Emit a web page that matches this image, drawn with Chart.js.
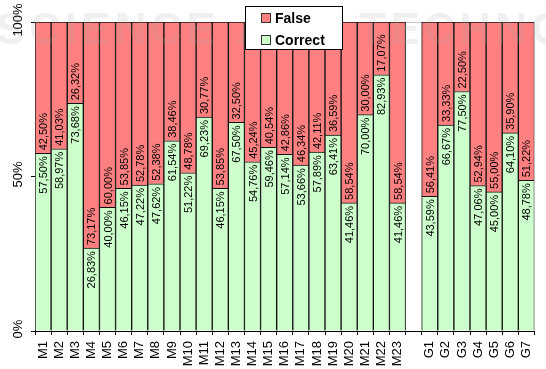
<!DOCTYPE html>
<html>
<head>
<meta charset="utf-8">
<script src="https://cdn.jsdelivr.net/npm/chart.js@4/dist/chart.umd.min.js"></script>
<style>
    html, body { margin: 0; padding: 0; background: #fff; overflow: hidden; }
    #wrap { width: 548px; height: 369px; }
</style>
</head>
<body>
<div id="wrap"><canvas id="chartCanvas" width="548" height="369"></canvas></div>
<script>
// data (empty slot = gap between M and G groups)
const categories = ['M1', 'M2', 'M3', 'M4', 'M5', 'M6', 'M7', 'M8', 'M9', 'M10', 'M11', 'M12',
    'M13', 'M14', 'M15', 'M16', 'M17', 'M18', 'M19', 'M20', 'M21', 'M22', 'M23', '',
    'G1', 'G2', 'G3', 'G4', 'G5', 'G6', 'G7'];
const correctValues = [57.50, 58.97, 73.68, 26.83, 40.00, 46.15, 47.22, 47.62, 61.54, 51.22, 69.23, 46.15,
    67.50, 54.76, 59.46, 57.14, 53.66, 57.89, 63.41, 41.46, 70.00, 82.93, 41.46, null,
    43.59, 66.67, 77.50, 47.06, 45.00, 64.10, 48.78];
const falseValues = [42.50, 41.03, 26.32, 73.17, 60.00, 53.85, 52.78, 52.38, 38.46, 48.78, 30.77, 53.85,
    32.50, 45.24, 40.54, 42.86, 46.34, 42.11, 36.59, 58.54, 30.00, 17.07, 58.54, null,
    56.41, 33.33, 22.50, 52.94, 55.00, 35.90, 51.22];
const yTicks = [0, 50, 100];
const legendOrder = ['False', 'Correct'];

const GREEN = '#CCFFCC';
const RED = '#FF8080';

function fmt(v) {
    return v.toFixed(2).replace('.', ',') + '%';
}

// Labels inside the bars, next to the green/red boundary
const barLabels = {
    id: 'barLabels',
    afterDatasetsDraw(chart) {
        const ctx = chart.ctx;
        ctx.save();
        ctx.font = '11px "Liberation Sans", Arial, sans-serif';
        ctx.fillStyle = '#000';
        ctx.textBaseline = 'middle';
        chart.data.datasets.forEach((ds, di) => {
            const meta = chart.getDatasetMeta(di);
            meta.data.forEach((bar, i) => {
                const v = ds.data[i];
                if (v === null) return;
                ctx.save();
                if (ds.label === 'Correct') {
                    ctx.translate(bar.x, bar.y + 3);
                    ctx.rotate(-Math.PI / 2);
                    ctx.textAlign = 'right';
                } else {
                    ctx.translate(bar.x, bar.base - 3);
                    ctx.rotate(-Math.PI / 2);
                    ctx.textAlign = 'left';
                }
                ctx.fillText(fmt(v), 0, 1);
                ctx.restore();
            });
        });
        ctx.restore();
    }
};

// Rotated y tick labels, faint watermark and the boxed legend
const extras = {
    id: 'extras',
    afterDraw(chart) {
        const ctx = chart.ctx;
        const y = chart.scales.y;

        ctx.save();
        ctx.font = '13px "Liberation Sans", Arial, sans-serif';
        ctx.fillStyle = '#000';
        ctx.textAlign = 'center';
        ctx.textBaseline = 'alphabetic';
        yTicks.forEach(t => {
            ctx.save();
            ctx.translate(22, y.getPixelForValue(t) - 2);
            ctx.rotate(-Math.PI / 2);
            ctx.fillText(t + '%', 0, 0);
            ctx.restore();
        });
        ctx.restore();

        // watermark
        ctx.save();
        ctx.font = 'bold 44px "Liberation Sans", Arial, sans-serif';
        ctx.fillStyle = 'rgba(160,160,160,0.16)';
        ctx.textBaseline = 'alphabetic';
        ctx.letterSpacing = '4px';
        ctx.fillText('SCIENCE AND TECHNOLOGY', -4, 44);
        ctx.restore();

        // legend
        ctx.save();
        ctx.fillStyle = '#fff';
        ctx.fillRect(246, 6, 97, 43);
        ctx.strokeStyle = '#000';
        ctx.lineWidth = 1;
        ctx.strokeRect(245.5, 6.5, 97, 43);
        ctx.font = 'bold 14px "Liberation Sans", Arial, sans-serif';
        ctx.textBaseline = 'alphabetic';
        ctx.textAlign = 'left';
        legendOrder.forEach((name, i) => {
            const ds = chart.data.datasets.find(d => d.label === name);
            const top = 13 + i * 22;
            ctx.fillStyle = ds.backgroundColor;
            ctx.fillRect(261, top, 10, 10);
            ctx.strokeStyle = '#333';
            ctx.strokeRect(261.5, top + 0.5, 9, 9);
            ctx.fillStyle = '#000';
            ctx.fillText(name, 275, top + 10);
        });
        ctx.restore();
    }
};

document.addEventListener('DOMContentLoaded', function() {
    const ctx = document.getElementById('chartCanvas').getContext('2d');
    new Chart(ctx, {
        type: 'bar',
        data: {
            labels: categories,
            datasets: [{
                label: 'Correct',
                data: correctValues,
                backgroundColor: GREEN,
                borderColor: '#111',
                borderWidth: 1,
                barPercentage: 1,
                categoryPercentage: 1
            }, {
                label: 'False',
                data: falseValues,
                backgroundColor: RED,
                borderColor: '#111',
                borderWidth: 1,
                barPercentage: 1,
                categoryPercentage: 1
            }]
        },
        options: {
            responsive: false,
            animation: false,
            devicePixelRatio: 1,
            layout: { padding: { top: 22, right: 0, left: 0, bottom: 0 } },
            plugins: {
                legend: { display: false },
                tooltip: { enabled: false }
            },
            scales: {
                x: {
                    stacked: true,
                    offset: true,
                    grid: {
                        offset: true,
                        drawOnChartArea: false,
                        color: '#000',
                        tickLength: 4
                    },
                    border: { color: '#000', width: 1 },
                    ticks: {
                        autoSkip: false,
                        minRotation: 90,
                        maxRotation: 90,
                        padding: 6,
                        color: '#000',
                        font: { family: '"Liberation Sans", Arial, sans-serif', size: 13 }
                    },
                    afterFit(scale) { scale.height = 38; }
                },
                y: {
                    stacked: true,
                    min: 0,
                    max: 100,
                    afterBuildTicks(scale) {
                        scale.ticks = yTicks.map(v => ({ value: v }));
                    },
                    grid: {
                        color: c => (c.tick && c.tick.value === 100) ? '#c8c8c8' : 'rgba(0,0,0,0)',
                        tickColor: '#000',
                        tickLength: 4
                    },
                    border: { color: '#000', width: 1 },
                    ticks: { display: false },
                    afterFit(scale) { scale.width = 35; }
                }
            }
        },
        plugins: [barLabels, extras]
    });
});
</script>
</body>
</html>
